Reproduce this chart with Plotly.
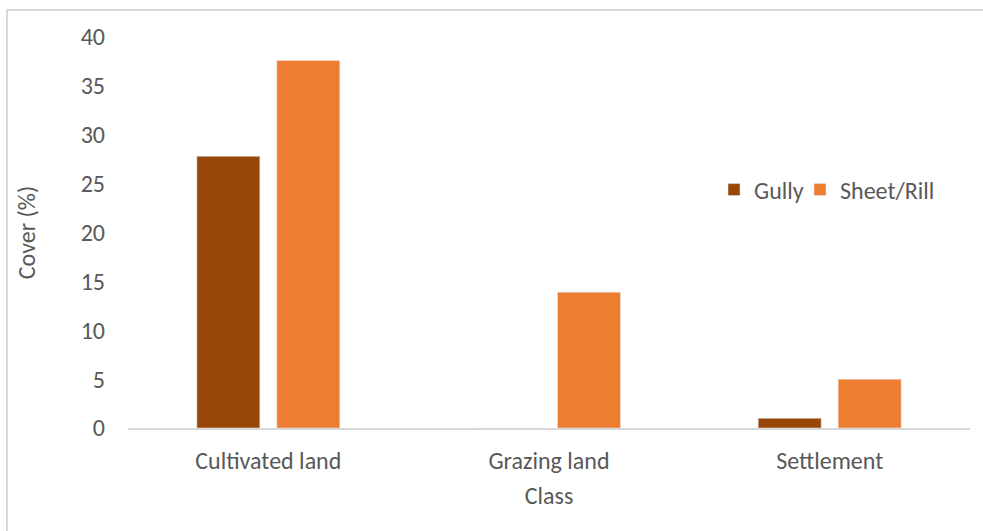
import plotly.graph_objects as go

# Erosion cover by land-use class
classes = ["Cultivated land", "Grazing land", "Settlement"]
gully = [27.8, 0, 1.0]
sheet_rill = [37.6, 13.9, 5.0]
y_ticks = [0, 5, 10, 15, 20, 25, 30, 35, 40]

FONT = "Calibri, Carlito, Lato, sans-serif"
TXT = "#595959"
FS = 24

fig = go.Figure()
fig.add_trace(go.Bar(name="Gully", x=classes, y=gully, marker=dict(color="#994709"),
                     legend="legend"))
fig.add_trace(go.Bar(name="Sheet/Rill", x=classes, y=sheet_rill, marker=dict(color="#ED7D31"),
                     legend="legend2"))

W, H = 983, 531
L, R, T, B = 128, 13, 37, 103
pw, ph = W - L - R, H - T - B

def px_x(p):
    return (p - L) / pw

def px_y(p):
    return (H - B - p) / ph

legend_style = dict(orientation="h", y=px_y(190), xanchor="left", yanchor="middle",
                    font=dict(size=FS, color=TXT), bgcolor="rgba(0,0,0,0)", itemwidth=30)

fig.update_layout(
    width=W, height=H,
    margin=dict(l=L, r=R, t=T, b=B),
    paper_bgcolor="white", plot_bgcolor="white",
    font=dict(family=FONT, color=TXT, size=FS),
    barmode="group", bargap=0.43, bargroupgap=0.2125,
    showlegend=True,
    legend=dict(x=px_x(714), **legend_style),
    legend2=dict(x=px_x(800), **legend_style),
    xaxis=dict(showline=True, linecolor="#D9D9D9", linewidth=2, ticks="",
               showgrid=False, zeroline=False, ticklabelstandoff=10,
               tickfont=dict(size=FS, color=TXT),
               title=dict(text="Class", font=dict(size=FS, color=TXT), standoff=13)),
    yaxis=dict(range=[0, 40], tickvals=y_ticks, showgrid=False, zeroline=False,
               showline=False, ticks="", ticklabelstandoff=22,
               tickfont=dict(size=FS, color=TXT),
               title=dict(text="Cover (%)", font=dict(size=FS, color=TXT), standoff=38)),
    shapes=[dict(type="rect", xref="paper", yref="paper",
                 x0=px_x(7), x1=px_x(W + 20), y0=px_y(H + 20), y1=px_y(10),
                 line=dict(color="#D9D9D9", width=2), fillcolor="rgba(0,0,0,0)",
                 layer="below")],
)

fig.write_html("out.html")
